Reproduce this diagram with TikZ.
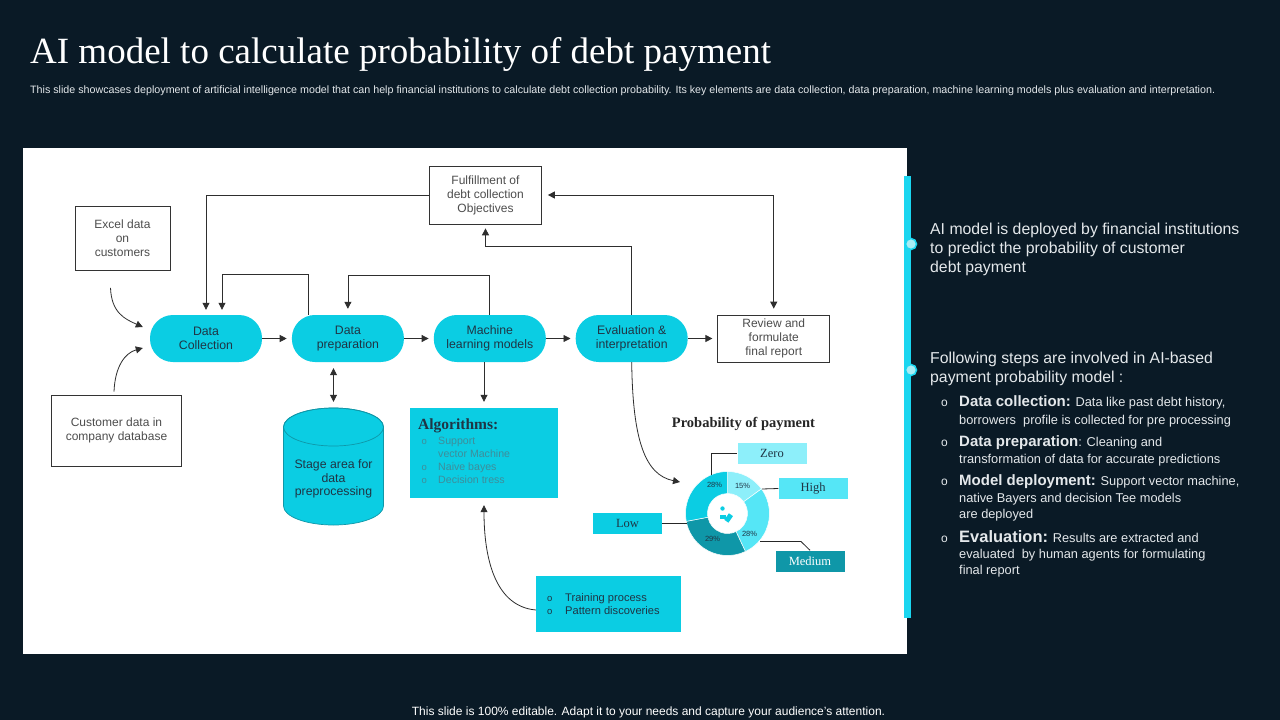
\documentclass[tikz,border=0pt]{standalone}
\usepackage{fontspec}
\setmainfont{Liberation Sans}
\newfontfamily\serifface{Liberation Serif}
\usetikzlibrary{calc,positioning,arrows.meta}

\definecolor{bgnavy}{HTML}{0A1A26}
\definecolor{aqua}{HTML}{0BCDE3}
\definecolor{aqualight}{HTML}{8DEFFA}
\definecolor{aquamid}{HTML}{55E6F6}
\definecolor{deepteal}{HTML}{0F97A8}
\definecolor{barcyan}{HTML}{1AD6F0}
\definecolor{inkdark}{HTML}{1F3545}
\definecolor{inkgray}{HTML}{4D4D4D}
\definecolor{inkfade}{HTML}{3E8D9A}
\definecolor{softwhite}{HTML}{E4E8EB}

\tikzset{
  link/.style={draw=black!82, line width=0.8pt, -{Triangle[length=7pt,width=7pt]}},
  bilink/.style={draw=black!82, line width=0.8pt, {Triangle[length=7pt,width=7pt]}-{Triangle[length=7pt,width=7pt]}},
  leader/.style={draw=black!85, line width=0.8pt},
  pill/.style={fill=aqua, rounded corners=23pt, minimum width=112pt, minimum height=47pt,
    inner sep=0pt, align=center, text=inkdark, font=\fontsize{12.3}{14}\selectfont},
  framebox/.style={draw=black!80, line width=0.7pt, fill=white, inner sep=0pt, align=center,
    text=inkgray, font=\fontsize{12}{14}\selectfont},
  tag/.style={minimum width=69pt, minimum height=21pt, inner sep=0pt, text=inkdark,
    font=\serifface\fontsize{12.5}{14}\selectfont},
  pct/.style={font=\fontsize{7.5}{8}\selectfont, text=inkdark, inner sep=0pt},
  sidetext/.style={anchor=base west, inner sep=0pt, text=softwhite},
}

\begin{document}
\begin{tikzpicture}[x=1pt, y=-1pt]
    \useasboundingbox (0,0) rectangle (1280,720);
    \fill[bgnavy] (0,0) rectangle (1280,720);

    % Heading
    \node[anchor=base west, inner sep=0pt, text=white, font=\serifface\fontsize{37}{42}\selectfont] (title) at (30,63)
        {AI model to calculate probability of debt payment};
    \node[anchor=base west, inner sep=0pt, text=softwhite, font=\fontsize{10.7}{12}\selectfont] (subtitle) at (30,93.5)
        {This slide showcases deployment of artificial intelligence model that can help financial institutions to calculate debt collection probability. Its key elements are data collection, data preparation, machine learning models plus evaluation and interpretation.};

    \fill[white] (23,148) rectangle (907,654);

    % Main flow
    \node[framebox, minimum width=112pt, minimum height=58pt] (fulfil) at (485.5,195) {Fulfillment of\\debt collection\\Objectives};
    \node[framebox, minimum width=95pt, minimum height=64pt] (excel) at (122.5,238.5) {Excel data\\on\\customers};
    \node[framebox, minimum width=130pt, minimum height=71pt] (custdb) at (116.5,430.5) {Customer data in\\company database};
    \node[pill] (collect) at (206,338.5) {Data\\Collection};
    \node[pill, right=29.5pt of collect] (prep) {Data\\preparation};
    \node[pill, right=29.5pt of prep] (mlmodels) {Machine\\learning models};
    \node[pill, right=29.5pt of mlmodels] (evalint) {Evaluation \&\\interpretation};
    \node[framebox, minimum width=112pt, minimum height=47pt, right=29.5pt of evalint] (review) {Review and\\formulate\\final report};

    \foreach \a/\b in {collect/prep, prep/mlmodels, mlmodels/evalint, evalint/review} {
        \draw[link, shorten >=5pt] (\a) -- (\b);
    }

    % Feedback loops
    \draw[link, shorten >=5pt] (fulfil.west) -| (collect.north);
    \draw[link, shorten >=5pt] ([xshift=-40pt]prep.north) -- ++(0,-40) -| ([xshift=16pt]collect.north);
    \draw[link, shorten >=6pt] (mlmodels.north) -- ++(0,-39) -| (prep.north);
    \draw[link, shorten >=4pt] (evalint.north) -- ++(0,-68) -| (fulfil.south);
    \draw[bilink, shorten <=6pt, shorten >=6pt] (fulfil.east) -| (review.north);

    % Inputs
    \coordinate (exceltail) at ($(excel.south)+(-12,17)$);
    \coordinate (excelhead) at ($(collect.west)+(-7,-11.5)$);
    \coordinate (custtail) at ($(custdb.north)+(-2.5,-3)$);
    \coordinate (custhead) at ($(collect.west)+(-7,9.5)$);
    \draw[link] (exceltail) .. controls +(1,25) and +(-18,-8) .. (excelhead);
    \draw[link] (custtail) .. controls +(1,-25) and +(-18,5) .. (custhead);

    % Stage area (cylinder)
    \node[inner sep=0pt, minimum width=100pt, minimum height=117pt] (stage) at (333.5,466.5) {};
    \filldraw[fill=aqua, draw=deepteal, line width=0.7pt]
        (283.5,427) -- (283.5,506) arc[start angle=180, end angle=0, x radius=50, y radius=19]
        -- (383.5,427) arc[start angle=360, end angle=180, x radius=50, y radius=19] -- cycle;
    \draw[deepteal, line width=0.7pt] (333.5,427) ellipse [x radius=50, y radius=19];
    \node[align=center, text=inkdark, font=\fontsize{12.3}{13.8}\selectfont] (stagetext) at (333.5,479)
        {Stage area for\\data\\preprocessing};
    \draw[bilink, shorten <=6pt, shorten >=6pt] (stage.north |- prep.south) -- (stage.north);

    % Algorithms
    \node[fill=aqua, minimum width=148pt, minimum height=90pt, inner sep=0pt] (algo) at (484,453) {};
    \node[anchor=base west, inner sep=0pt, text=inkdark, font=\serifface\bfseries\fontsize{15.5}{17}\selectfont] (algohead) at (418,429) {Algorithms:};
    \foreach \yy/\bul/\txt [count=\i] in {444.7/o/Support, 457.7//vector Machine, 470.7/o/Naive bayes, 483.7/o/Decision tress} {
        \node[anchor=base west, inner sep=0pt, text=inkfade, font=\fontsize{9.5}{11}\selectfont] (algobul\i) at (421.5,\yy) {\bul};
        \node[anchor=base west, inner sep=0pt, text=inkfade, font=\fontsize{10.6}{13}\selectfont] (algoitem\i) at (438,\yy) {\txt};
    }
    \draw[link, shorten >=6pt] (algo.north |- mlmodels.south) -- (algo.north);

    % Training
    \node[fill=aqua, minimum width=145pt, minimum height=56pt, inner sep=0pt] (train) at (608.5,604) {};
    \foreach \yy/\txt [count=\i] in {601/Training process, 614/Pattern discoveries} {
        \node[anchor=base west, inner sep=0pt, text=inkdark, font=\fontsize{9.5}{11}\selectfont] (trainbul\i) at (547,\yy) {o};
        \node[anchor=base west, inner sep=0pt, text=inkdark, font=\fontsize{11.1}{13}\selectfont] (trainitem\i) at (565,\yy) {\txt};
    }
    \draw[link, shorten >=7pt] ($(train.west)+(0,6)$) .. controls +(-45,-4) and +(0,50) .. (algo.south);

    % Probability donut
    \node[font=\serifface\bfseries\fontsize{14.5}{16}\selectfont, text=black!85] (probtitle) at (743.5,424) {Probability of payment};
    \coordinate (donut) at (727.5,513.5);
    \begin{scope}[shift={(donut)}]
        \foreach \a/\b/\c in {-90/-36/aqualight, -36/64.8/aquamid, 64.8/169.2/deepteal, 169.2/270/aqua} {
            \filldraw[fill=\c, draw=white, line width=0.5pt] (\a:42) arc[start angle=\a, end angle=\b, radius=42]
                -- (\b:20) arc[start angle=\b, end angle=\a, radius=20] -- cycle;
        }
        \fill[aqua] (-5,-5) circle (2.2);
        \fill[aqua] (-8,1) rectangle (-2,5);
        \fill[aqua, rotate=-35] (1,-1) rectangle (6,7);
    \end{scope}
    \foreach \p/\dx/\dy in {28\%/-13/-28.5, 15\%/15/-27.5, 28\%/22/20.5, 29\%/-15/25.5} {
        \node[pct] at ($(donut)+(\dx,\dy)$) {\p};
    }
    \coordinate (evaltail) at (evalint.south);
    \coordinate (donuthead) at ($(donut)+(-47.5,-31.5)$);
    \draw[link] (evaltail) .. controls +(1,78) and +(-35,-7) .. (donuthead);

    \node[tag, fill=aqualight] (zero) at (772,453.5) {Zero};
    \node[tag, fill=aquamid] (high) at (813,488.5) {High};
    \node[tag, fill=aqua] (low) at (627.5,523) {Low};
    \node[tag, fill=deepteal, text=white] (medium) at (810,561) {Medium};
    \draw[leader] ($(donut)+(-16,-38.5)$) |- (zero.west);
    \draw[leader] ($(donut)+(34.5,-24.5)$) -- (high.west);
    \draw[leader] (low.east) -- ($(donut)+(-40.5,9.5)$);
    \draw[leader] ($(donut)+(32.5,28)$) -- ++(41,0) -- (medium.north);

    % Side notes
    \fill[barcyan] (904,176) rectangle (911,618);
    \foreach \yy in {244, 370} {
        \filldraw[fill=aqua!35, draw=barcyan, line width=1.5pt] (911,\yy) circle (5.5);
    }
    \foreach \yy/\txt [count=\i] in {234/AI model is deployed by financial institutions, 253/to predict the probability of customer, 272/debt payment,
        363.5/Following steps are involved in AI-based, 382.5/payment probability model :} {
        \node[sidetext, font=\fontsize{15.8}{18}\selectfont] (lead\i) at (930,\yy) {\txt};
    }
    \foreach \yy [count=\i] in {406.5, 446.5, 485, 542} {
        \node[sidetext, font=\fontsize{12}{14}\selectfont] (dot\i) at (941,\yy) {o};
    }
    \foreach \yy/\txt [count=\i] in {
        406.5/{{\fontsize{15}{16}\selectfont\bfseries Data collection:} Data like past debt history,},
        424/{borrowers\ \ profile is collected for pre processing},
        446.5/{{\fontsize{15}{16}\selectfont\bfseries Data preparation}: Cleaning and},
        463/{transformation of data for accurate predictions},
        485/{{\fontsize{15}{16}\selectfont\bfseries Model deployment:} Support vector machine,},
        502/{native Bayers and decision Tee models},
        518/{are deployed},
        542/{{\fontsize{16.5}{18}\selectfont\bfseries Evaluation:} Results are extracted and},
        558/{evaluated\ \ by human agents for formulating},
        574/{final report}} {
        \node[sidetext, font=\fontsize{12.8}{15}\selectfont] (step\i) at (959,\yy) {\txt};
    }

    \node[anchor=base, inner sep=0pt, text=white, font=\fontsize{12}{14}\selectfont] (footer) at (648.5,715.5)
        {This slide is 100\% editable. Adapt it to your needs and capture your audience's attention.};
\end{tikzpicture}
\end{document}
